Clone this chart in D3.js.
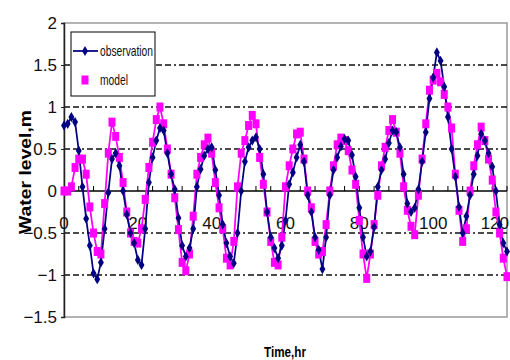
<!DOCTYPE html>
<html>
<head>
<meta charset="utf-8">
<script src="https://cdn.jsdelivr.net/npm/d3@7"></script>
<style>
  body { margin: 0; background: #fff; }
  text { font-family: "Liberation Sans Narrow", "Arial Narrow", "Liberation Sans", Arial, sans-serif; }
</style>
</head>
<body>
<div id="root"></div>
<script>
// hourly readings, 0..120 hr
const hours = d3.range(0, 121);

const observation = [
  0.78, 0.80, 0.88, 0.82, 0.48, 0.05, -0.33, -0.65, -0.98, -1.05,
  -0.85, -0.45, -0.02, 0.38, 0.45, 0.30, 0.00, -0.28, -0.50, -0.62,
  -0.82, -0.88, -0.45, 0.10, 0.40, 0.60, 0.75, 0.72, 0.45, 0.20,
  0.02, -0.32, -0.65, -0.78, -0.68, -0.45, 0.05, 0.26, 0.42, 0.50,
  0.52, 0.25, -0.05, -0.40, -0.62, -0.78, -0.86, -0.50, 0.00, 0.35,
  0.52, 0.60, 0.64, 0.50, 0.20, -0.25, -0.55, -0.68, -0.80, -0.65,
  -0.35, 0.08, 0.22, 0.40, 0.55, 0.35, -0.05, -0.25, -0.55, -0.70,
  -0.93, -0.55, -0.05, 0.25, 0.40, 0.53, 0.62, 0.60, 0.43, 0.17,
  -0.20, -0.55, -0.78, -0.72, -0.43, 0.05, 0.25, 0.38, 0.57, 0.72,
  0.70, 0.52, 0.20, -0.15, -0.25, -0.20, 0.02, 0.35, 0.70, 1.10,
  1.35, 1.65, 1.55, 1.24, 0.88, 0.50, 0.17, -0.19, -0.50, -0.30,
  -0.05, 0.20, 0.42, 0.68, 0.60, 0.45, 0.29, 0.00, -0.40, -0.62,
  -0.72
];

const model = [
  0.00, 0.00, 0.05, 0.28, 0.38, 0.38, 0.20, -0.19, -0.50, -0.72,
  -0.75, -0.15, 0.45, 0.82, 0.65, 0.40, 0.10, -0.25, -0.50, -0.60,
  -0.62, -0.45, -0.10, 0.28, 0.58, 0.85, 1.00, 0.80, 0.50, 0.20,
  -0.08, -0.46, -0.85, -0.95, -0.75, -0.30, 0.20, 0.40, 0.55, 0.63,
  0.45, 0.10, -0.20, -0.45, -0.80, -0.88, -0.60, 0.05, 0.45, 0.60,
  0.78, 0.90, 0.80, 0.40, 0.08, -0.25, -0.60, -0.85, -0.88, -0.55,
  0.05, 0.30, 0.50, 0.68, 0.70, 0.38, 0.00, -0.20, -0.60, -0.75,
  -0.72, -0.40, 0.00, 0.30, 0.55, 0.63, 0.60, 0.48, 0.25, 0.08,
  -0.35, -0.75, -1.04, -0.75, -0.40, -0.05, 0.30, 0.52, 0.72, 0.85,
  0.70, 0.45, 0.05, -0.23, -0.42, -0.52, -0.05, 0.38, 0.80, 1.20,
  1.32, 1.40, 1.30, 1.15, 1.00, 0.75, 0.20, -0.23, -0.60, -0.45,
  0.00, 0.30, 0.55, 0.76, 0.60, 0.38, 0.13, -0.25, -0.50, -0.80,
  -1.02
];

const yTicks = [-1.5, -1, -0.5, 0, 0.5, 1, 1.5, 2];
const xTickLabels = [0, 20, 40, 60, 80, 100, 120];
const xMinorTicks = d3.range(4, 121, 4);
const seriesNames = ["observation", "model"];

const width = 510;
const height = 360;
const plot = { left: 64, right: 507, top: 23, bottom: 317 };

const svg = d3.select("#root")
  .append("svg")
    .attr("width", width)
    .attr("height", height);

const xScale = d3.scaleLinear()
  .domain([0, 120])
  .range([plot.left, plot.right]);

const yScale = d3.scaleLinear()
  .domain([-1.5, 2])
  .range([plot.bottom, plot.top]);

// plot frame (grey) and dash-dot grid
svg.append("rect")
    .attr("x", plot.left)
    .attr("y", plot.top)
    .attr("width", plot.right - plot.left)
    .attr("height", plot.bottom - plot.top)
    .attr("fill", "#fff")
    .attr("stroke", "#9a9a9a")
    .attr("stroke-width", 1.5);

svg.append("g")
  .selectAll("line")
  .data(yTicks.filter(d => d !== 0 && d > -1.5 && d < 2))
  .enter()
  .append("line")
    .attr("x1", plot.left)
    .attr("x2", plot.right)
    .attr("y1", d => yScale(d))
    .attr("y2", d => yScale(d))
    .attr("stroke", "#111")
    .attr("stroke-width", 1.5)
    .attr("stroke-dasharray", "6,3,6,3,2,3");

// left axis
const yAxis = svg.append("g")
    .attr("transform", `translate(${plot.left},0)`)
    .call(d3.axisLeft(yScale).tickValues(yTicks).tickSize(3).tickFormat(d3.format("")));
yAxis.select(".domain").attr("stroke", "#222").attr("stroke-width", 1.5);
yAxis.selectAll(".tick line").attr("stroke", "#222");
yAxis.selectAll(".tick text")
    .attr("x", -7)
    .attr("font-size", 17)
    .attr("fill", "#111")
    .style("font-family", "'Liberation Sans Narrow', 'Arial Narrow', sans-serif");

// x axis on the zero line
const xAxis = svg.append("g")
    .attr("transform", `translate(0,${yScale(0)})`);
xAxis.append("line")
    .attr("x1", plot.left)
    .attr("x2", plot.right)
    .attr("stroke", "#000")
    .attr("stroke-width", 1.5);
xAxis.selectAll(".minor")
  .data(xMinorTicks)
  .enter()
  .append("line")
    .attr("class", "minor")
    .attr("x1", d => xScale(d))
    .attr("x2", d => xScale(d))
    .attr("y1", 0)
    .attr("y2", -5)
    .attr("stroke", "#000");
xAxis.selectAll(".lbl")
  .data(xTickLabels)
  .enter()
  .append("text")
    .attr("class", "lbl")
    .attr("x", d => d === 120 ? width - 1 : xScale(d))
    .attr("y", 38)
    .attr("text-anchor", d => d === 120 ? "end" : "middle")
    .attr("font-size", 17)
    .attr("fill", "#111")
    .text(d => d);

// series
const lineCreator = d3.line()
  .x((d, i) => xScale(hours[i]))
  .y(d => yScale(d));

svg.append("path")
    .datum(model)
    .attr("d", lineCreator)
    .attr("fill", "none")
    .attr("stroke", "#ff00ff")
    .attr("stroke-width", 1.75);

svg.append("path")
    .datum(observation)
    .attr("d", lineCreator)
    .attr("fill", "none")
    .attr("stroke", "#000080")
    .attr("stroke-width", 1.75);

svg.append("g")
  .selectAll("rect")
  .data(model)
  .enter()
  .append("rect")
    .attr("x", (d, i) => xScale(hours[i]) - 3.5)
    .attr("y", d => yScale(d) - 4.5)
    .attr("width", 7)
    .attr("height", 9)
    .attr("fill", "#ff00ff");

const diamond = d3.symbol().type(d3.symbolDiamond).size(30);
svg.append("g")
  .selectAll("path")
  .data(observation)
  .enter()
  .append("path")
    .attr("d", diamond)
    .attr("transform", (d, i) => `translate(${xScale(hours[i])},${yScale(d)})`)
    .attr("fill", "#000080");

// legend
const legend = svg.append("g");
legend.append("rect")
    .attr("x", 71)
    .attr("y", 32)
    .attr("width", 84)
    .attr("height", 64)
    .attr("fill", "#fff")
    .attr("stroke", "#000")
    .attr("stroke-width", 1);
legend.append("line")
    .attr("x1", 73)
    .attr("x2", 98)
    .attr("y1", 51)
    .attr("y2", 51)
    .attr("stroke", "#000080")
    .attr("stroke-width", 1.75);
legend.append("path")
    .attr("d", diamond)
    .attr("transform", "translate(85,51)")
    .attr("fill", "#000080");
legend.append("rect")
    .attr("x", 81.5)
    .attr("y", 75.5)
    .attr("width", 7)
    .attr("height", 9)
    .attr("fill", "#ff00ff");
legend.selectAll(".name")
  .data(seriesNames)
  .enter()
  .append("text")
    .attr("class", "name")
    .attr("x", 100)
    .attr("y", (d, i) => 56 + i * 29)
    .attr("font-size", 15)
    .attr("textLength", (d, i) => i === 0 ? 53 : 28)
    .attr("lengthAdjust", "spacingAndGlyphs")
    .attr("fill", "#111")
    .text(d => d);

// axis titles
svg.append("text")
    .text("Water level,m")
    .attr("transform", `translate(31, ${172})rotate(-90)`)
    .attr("text-anchor", "middle")
    .attr("font-size", 17)
    .attr("font-weight", "bold")
    .attr("textLength", 124)
    .attr("lengthAdjust", "spacingAndGlyphs")
    .style("font-family", "'Liberation Sans', Arial, sans-serif");
svg.append("text")
    .text("Time,hr")
    .attr("x", 285)
    .attr("y", 357)
    .attr("text-anchor", "middle")
    .attr("font-size", 15)
    .attr("font-weight", "bold")
    .attr("textLength", 42)
    .attr("lengthAdjust", "spacingAndGlyphs")
    .style("font-family", "'Liberation Sans', Arial, sans-serif");
</script>
</body>
</html>
